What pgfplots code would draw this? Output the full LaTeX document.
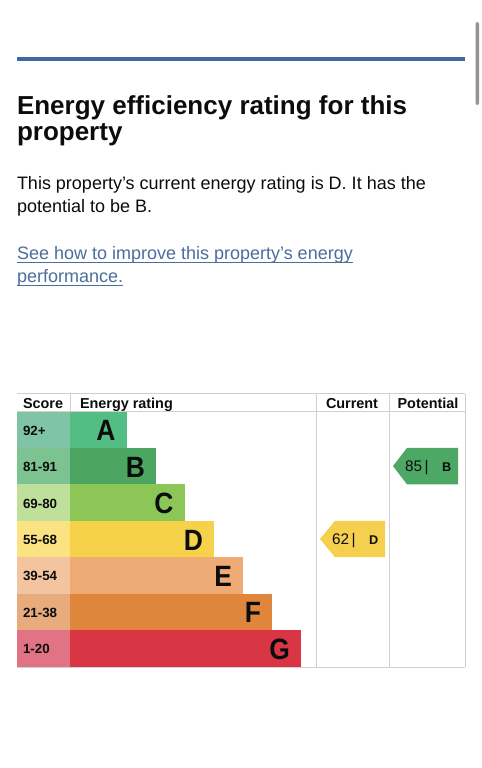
\documentclass[border=0pt]{standalone}
\usepackage{fontspec}
\setmainfont{Liberation Sans}
\usepackage{pgfplots}
\pgfplotsset{compat=1.18}
\definecolor{cA}{RGB}{84,189,131}
\definecolor{sA}{RGB}{127,196,164}
\definecolor{cB}{RGB}{76,166,98}
\definecolor{sB}{RGB}{125,195,146}
\definecolor{cC}{RGB}{140,198,87}
\definecolor{sC}{RGB}{191,224,155}
\definecolor{cD}{RGB}{246,210,74}
\definecolor{sD}{RGB}{251,227,130}
\definecolor{cE}{RGB}{238,171,117}
\definecolor{sE}{RGB}{243,196,159}
\definecolor{cF}{RGB}{224,133,60}
\definecolor{sF}{RGB}{232,171,125}
\definecolor{cG}{RGB}{216,53,69}
\definecolor{sG}{RGB}{226,115,133}
\definecolor{cur}{RGB}{245,208,78}
\definecolor{pot}{RGB}{76,168,100}
\definecolor{rule}{RGB}{61,106,160}
\definecolor{link}{RGB}{75,110,156}
\definecolor{grid}{RGB}{208,208,208}
\definecolor{ink}{RGB}{11,12,12}
\tikzset{tn/.style={inner sep=0pt, outer sep=0pt, text=ink}}
\begin{document}
\begin{tikzpicture}
\begin{axis}[scale only axis, width=361.5pt, height=576pt,
  xmin=-70, xmax=412, ymin=0, ymax=768, y dir=reverse,
  hide axis, clip=false,
  rowbar/.style={xbar, bar width=36.43, bar shift=0pt, draw=none, mark=none}]
\fill[white] (rel axis cs:0,0) rectangle (rel axis cs:1,1);
% scrollbar and rule
\fill[gray!85, rounded corners=1.5pt] (axis cs:405.5,22) rectangle (axis cs:409,105);
\draw[rule, line width=2.6pt] (axis cs:-53,59) -- (axis cs:395,59);
% title
\node[tn, anchor=base west, font=\bfseries\fontsize{19.5pt}{20pt}\selectfont] at (axis cs:-53,114) {Energy efficiency rating for this};
\node[tn, anchor=base west, font=\bfseries\fontsize{19.5pt}{20pt}\selectfont] at (axis cs:-53,140) {property};
% body
\node[tn, anchor=base west, font=\fontsize{13.5pt}{14pt}\selectfont] at (axis cs:-53,189) {This property’s current energy rating is D. It has the};
\node[tn, anchor=base west, font=\fontsize{13.5pt}{14pt}\selectfont] at (axis cs:-53,212.5) {potential to be B.};
% link
\node[tn, anchor=base west, text=link, font=\fontsize{13.5pt}{14pt}\selectfont] (l1) at (axis cs:-53,259.5) {See how to improve this property’s energy};
\node[tn, anchor=base west, text=link, font=\fontsize{13.5pt}{14pt}\selectfont] (l2) at (axis cs:-53,282.5) {performance.};
\draw[link, line width=0.75pt] ([yshift=-2pt]l1.base west) -- ([yshift=-2pt]l1.base east);
\draw[link, line width=0.75pt] ([yshift=-2pt]l2.base west) -- ([yshift=-2pt]l2.base east);
% score cells
\addplot[rowbar, fill=sA] coordinates {(-53,429.7)};
\addplot[rowbar, fill=sB] coordinates {(-53,466.1)};
\addplot[rowbar, fill=sC] coordinates {(-53,502.6)};
\addplot[rowbar, fill=sD] coordinates {(-53,539.0)};
\addplot[rowbar, fill=sE] coordinates {(-53,575.4)};
\addplot[rowbar, fill=sF] coordinates {(-53,611.9)};
\addplot[rowbar, fill=sG] coordinates {(-53,648.3)};
% rating bars
\addplot[rowbar, fill=cA] coordinates {(56.5,429.7)};
\addplot[rowbar, fill=cB] coordinates {(86,466.1)};
\addplot[rowbar, fill=cC] coordinates {(114.5,502.6)};
\addplot[rowbar, fill=cD] coordinates {(144,539.0)};
\addplot[rowbar, fill=cE] coordinates {(173,575.4)};
\addplot[rowbar, fill=cF] coordinates {(202,611.9)};
\addplot[rowbar, fill=cG] coordinates {(231,648.3)};
% current / potential arrows
\addplot[fill=cur, draw=none, mark=none] coordinates {(250,539.0) (265,520.8) (315,520.8) (315,557.2) (265,557.2) (250,539.0)};
\addplot[fill=pot, draw=none, mark=none] coordinates {(323,466.1) (337,447.9) (388,447.9) (388,484.3) (337,484.3) (323,466.1)};
% grid lines
\draw[grid, line width=0.75pt] (axis cs:-53,393.5) -- (axis cs:395,393.5);
\draw[grid, line width=0.75pt] (axis cs:-53,411.5) -- (axis cs:395,411.5);
\draw[grid, line width=0.75pt] (axis cs:-53,667) -- (axis cs:395,667);
\draw[grid, line width=0.75pt] (axis cs:0.5,393.5) -- (axis cs:0.5,411.5);
\draw[grid, line width=0.75pt] (axis cs:246,393.5) -- (axis cs:246,667);
\draw[grid, line width=0.75pt] (axis cs:319,393.5) -- (axis cs:319,667);
\draw[grid, line width=0.75pt] (axis cs:395,393.5) -- (axis cs:395,667);
% header
\node[tn, anchor=base west, font=\bfseries\fontsize{10.8pt}{11pt}\selectfont] at (axis cs:-47,408.7) {Score};
\node[tn, anchor=base west, font=\bfseries\fontsize{10.8pt}{11pt}\selectfont] at (axis cs:10,408.7) {Energy rating};
\node[tn, anchor=base, font=\bfseries\fontsize{10.8pt}{11pt}\selectfont] at (axis cs:282,408.7) {Current};
\node[tn, anchor=base, font=\bfseries\fontsize{10.8pt}{11pt}\selectfont] at (axis cs:358,408.7) {Potential};
% score labels
\foreach \lab/\yy in {92+/429.7, 81-91/466.1, 69-80/502.6, 55-68/539.0, 39-54/575.4, 21-38/611.9, 1-20/648.3}{
  \edef\temp{\noexpand\node[tn, anchor=base west, font=\noexpand\bfseries\noexpand\fontsize{10pt}{11pt}\noexpand\selectfont] at (axis cs:-47,\yy+5.5) {\lab};}
  \temp
}
% letters
\foreach \lab/\xx/\yy in {A/45.5/429.7, B/75/466.1, C/103.5/502.6, D/133/539.0, E/162/575.4, F/191/611.9, G/220/648.3}{
  \edef\temp{\noexpand\node[tn, anchor=base east, xscale=0.9, font=\noexpand\bfseries\noexpand\fontsize{22pt}{22pt}\noexpand\selectfont] at (axis cs:\xx,\yy+11) {\lab};}
  \temp
}
% arrow texts
\node[tn, anchor=base west, font=\fontsize{11.5pt}{12pt}\selectfont] at (axis cs:262,544.5) {62\,|};
\node[tn, anchor=base west, font=\bfseries\fontsize{9.5pt}{10pt}\selectfont] at (axis cs:299,544.5) {D};
\node[tn, anchor=base west, font=\fontsize{11.5pt}{12pt}\selectfont] at (axis cs:335,471.6) {85\,|};
\node[tn, anchor=base west, font=\bfseries\fontsize{9.5pt}{10pt}\selectfont] at (axis cs:372,471.6) {B};
\end{axis}
\end{tikzpicture}
\end{document}
